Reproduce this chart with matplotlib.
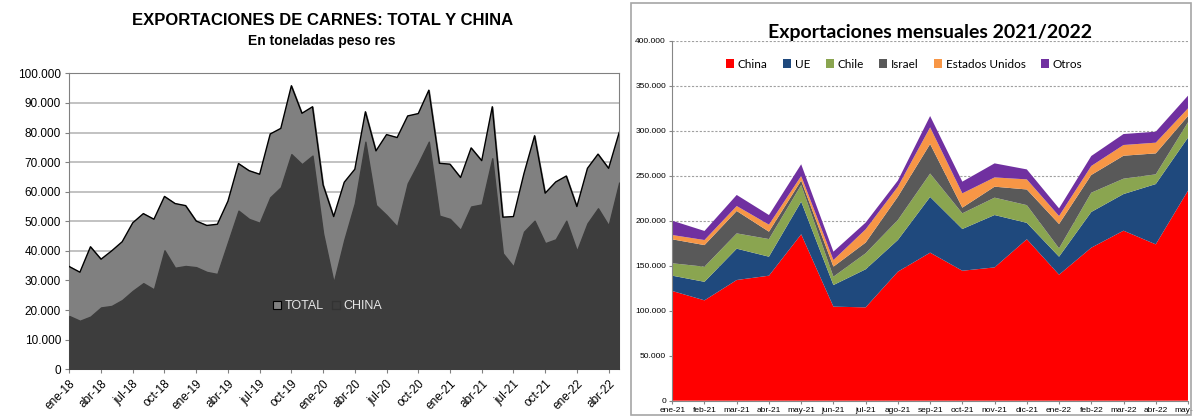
"""
Exportaciones de carnes: total y China (izq.) y exportaciones mensuales por destino (der.)
"""

import matplotlib.pyplot as plt
import matplotlib.ticker as mticker
from matplotlib.patches import Rectangle

plt.rcParams['font.family'] = ['Liberation Sans', 'DejaVu Sans']

# Left chart: monthly exports, tonnes, ene-18 .. may-22
total = [34700, 32800, 41400, 37200, 40000, 43100, 49500, 52600, 50700, 58400,
         56000, 55300, 50100, 48600, 49000, 56800, 69500, 67100, 65900, 79500,
         81400, 95800, 86500, 88700, 62300, 51600, 63200, 67600, 87000, 73800,
         79300, 78300, 85600, 86400, 94300, 69600, 69300, 64800, 74800, 70500,
         88700, 51400, 51600, 66200, 78900, 59500, 63300, 65300, 55000, 67900,
         72700, 67900, 80000]
china = [18000, 16400, 17800, 20900, 21400, 23400, 26500, 29100, 27000, 40200,
         34300, 34900, 34500, 32900, 32200, 42900, 53600, 50800, 49500, 58100,
         61500, 72700, 69300, 72200, 45900, 29300, 43700, 56100, 76900, 55500,
         52100, 48200, 62800, 69600, 76900, 51900, 50800, 47100, 55000, 55700,
         71300, 39200, 34700, 46500, 50200, 42600, 43900, 50200, 40000, 49300,
         54400, 48600, 63100]
left_ticks = ['ene-18', 'abr-18', 'jul-18', 'oct-18', 'ene-19', 'abr-19',
              'jul-19', 'oct-19', 'ene-20', 'abr-20', 'jul-20', 'oct-20',
              'ene-21', 'abr-21', 'jul-21', 'oct-21', 'ene-22', 'abr-22']

# Right chart: monthly exports by destination, tonnes
meses = ['ene-21', 'feb-21', 'mar-21', 'abr-21', 'may-21', 'jun-21', 'jul-21',
         'ago-21', 'sep-21', 'oct-21', 'nov-21', 'dic-21', 'ene-22', 'feb-22',
         'mar-22', 'abr-22', 'may-22']
dest_china = [121900, 111500, 134100, 138900, 184900, 104500, 103700, 143400, 164500,
              144400, 148100, 179400, 140000, 170000, 188900, 173700, 233400]
dest_ue = [17000, 20600, 34800, 21100, 36300, 24000, 42300, 35200, 61900,
           46400, 58200, 18200, 20000, 39700, 40700, 67000, 58900]
dest_chile = [13800, 16800, 17000, 19600, 18500, 9300, 17800, 22200, 26000,
              17400, 19300, 19700, 9300, 21400, 17100, 10800, 17000]
dest_israel = [26600, 24000, 24900, 8200, 4900, 11100, 11900, 25900, 32800,
               6300, 12200, 17400, 27000, 19700, 25500, 23300, 7000]
dest_eeuu = [4800, 5600, 5500, 7800, 5100, 7400, 14700, 11100, 18500,
             15900, 10300, 11200, 8900, 10000, 11900, 11900, 8500]
dest_otros = [15900, 10100, 12300, 10700, 13000, 9300, 7500, 6800, 12600,
              13000, 15600, 11100, 8500, 11100, 12200, 12200, 14100]
dest_names = ['China', 'UE', 'Chile', 'Israel', 'Estados Unidos', 'Otros']
dest_colors = ['#ff0000', '#1f497d', '#8aa550', '#595959', '#f79646', '#7030a0']

thousands = mticker.FuncFormatter(lambda v, p: f"{v:,.0f}".replace(',', '.'))

fig = plt.figure(figsize=(11.93, 4.17), dpi=100)

# ---------------- left chart ----------------
ax1 = fig.add_axes([0.0581, 0.1144, 0.4609, 0.7098])
x1 = list(range(len(total)))
ax1.fill_between(x1, 0, total, color='#808080', label='TOTAL', zorder=2)
ax1.plot(x1, total, color='black', lw=1, zorder=3)
ax1.fill_between(x1, 0, china, color='#3d3d3d', label='CHINA', zorder=4)
ax1.set_xlim(0, len(total) - 1)
ax1.set_ylim(0, 100000)
ax1.yaxis.set_major_locator(mticker.MultipleLocator(10000))
ax1.yaxis.set_major_formatter(thousands)
ax1.grid(axis='y', color='#b8b8b8', lw=1.2, zorder=1)
ax1.set_axisbelow(True)
ax1.set_xticks(range(0, len(total), 3))
ax1.set_xticklabels(left_ticks, rotation=45, ha='right', rotation_mode='anchor')
ax1.tick_params(axis='x', labelsize=8.5, length=3, color='#808080', pad=3)
ax1.tick_params(axis='y', labelsize=8.5, length=3, color='#808080', pad=3)
for s in ax1.spines.values():
    s.set_color('#808080')
leg1 = ax1.legend(loc='center', bbox_to_anchor=(0.47, 0.214), ncol=2,
                  frameon=False, fontsize=9, labelcolor='#e6e6e6',
                  handlelength=0.6, handleheight=0.6, handletextpad=0.3,
                  columnspacing=0.7)
leg1.legend_handles[0].set_edgecolor('black')
leg1.legend_handles[0].set_linewidth(0.8)
leg1.legend_handles[1].set_edgecolor('#333333')

fig.text(0.27, 0.952, 'EXPORTACIONES DE CARNES: TOTAL Y CHINA',
         ha='center', va='center', fontsize=12, fontweight='bold')
fig.text(0.27, 0.902, 'En toneladas peso res',
         ha='center', va='center', fontsize=10, fontweight='bold')

# ---------------- right chart ----------------
fig.patches.append(Rectangle((0.529, 0.004), 0.469, 0.988, transform=fig.transFigure,
                             fill=False, edgecolor='#a6a6a6', lw=1.2))
ax2 = fig.add_axes([0.5635, 0.0391, 0.4323, 0.8633])
x2 = list(range(len(meses)))
ax2.stackplot(x2, dest_china, dest_ue, dest_chile, dest_israel, dest_eeuu, dest_otros,
              labels=dest_names, colors=dest_colors, zorder=2)
ax2.set_xlim(0, len(meses) - 1)
ax2.set_ylim(0, 400000)
ax2.yaxis.set_major_locator(mticker.MultipleLocator(50000))
ax2.yaxis.set_major_formatter(thousands)
ax2.grid(axis='y', color='#a0a0a0', ls=(0, (2, 1.5)), lw=0.8, zorder=1)
ax2.set_axisbelow(True)
ax2.set_xticks(x2)
ax2.set_xticklabels(meses)
ax2.tick_params(axis='both', labelsize=6, length=2.5, color='#868686', pad=2)
for side in ['top', 'right']:
    ax2.spines[side].set_visible(False)
for side in ['left', 'bottom']:
    ax2.spines[side].set_color('#868686')
ax2.legend(loc='center', bbox_to_anchor=(0.45, 0.935), ncol=6, frameon=False,
           handlelength=0.7, handleheight=0.7, handletextpad=0.3,
           columnspacing=1.3, prop={'family': 'Lato', 'size': 8.5})
ax2.set_title('Exportaciones mensuales 2021/2022', fontsize=14, fontweight='bold',
              family='Lato', pad=2)

fig.savefig('out.png', dpi=100)
